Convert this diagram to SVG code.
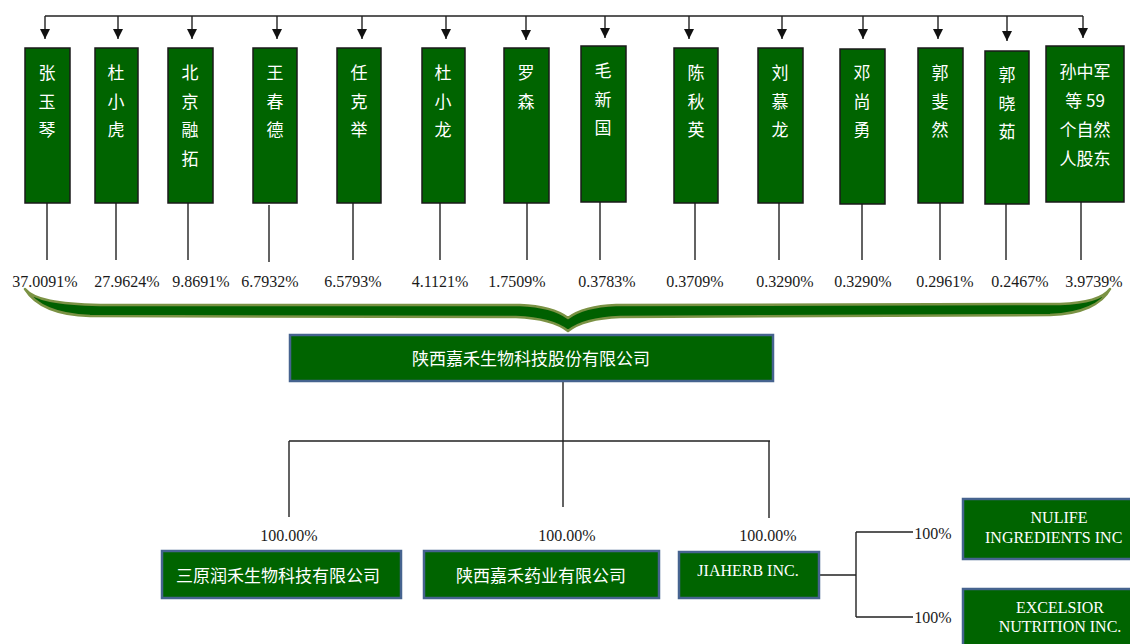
<svg xmlns="http://www.w3.org/2000/svg" width="1130" height="644" viewBox="0 0 1130 644">
<style>
.sh{fill:#006400;stroke:#1a1a1a;stroke-width:1.5}
.co{fill:#006400;stroke:#46638f;stroke-width:2.5}
.vt{font-family:"Noto Sans CJK SC","Noto Sans",sans-serif;font-size:17px;fill:#ffffff;text-anchor:middle;dominant-baseline:central}
.ct{font-family:"Noto Sans CJK SC","Noto Sans",sans-serif;font-size:17px;fill:#ffffff;text-anchor:middle;dominant-baseline:central}
.et{font-family:"Liberation Serif","Times New Roman",serif;font-size:16px;fill:#ffffff;text-anchor:middle;dominant-baseline:central}
.pc{font-family:"Liberation Serif","Times New Roman",serif;font-size:16px;fill:#1a1a1a;text-anchor:middle;dominant-baseline:central}
.ln{stroke:#222;stroke-width:1.4;fill:none}
</style>
<defs>
<marker id="ah" markerWidth="10" markerHeight="10" refX="10" refY="5" orient="auto" markerUnits="userSpaceOnUse" viewBox="0 0 10 10">
<path d="M0,0 L10,5 L0,10 Z" fill="#111"/>
</marker>
</defs>
<rect width="1130" height="644" fill="#ffffff"/>

<g id="connectors">
<path class="ln" d="M45,16 H1083"/>
<path class="ln" d="M45,16 V39" marker-end="url(#ah)"/>
<path class="ln" d="M118,16 V39" marker-end="url(#ah)"/>
<path class="ln" d="M192,16 V39" marker-end="url(#ah)"/>
<path class="ln" d="M277,16 V39" marker-end="url(#ah)"/>
<path class="ln" d="M362,16 V39" marker-end="url(#ah)"/>
<path class="ln" d="M446,16 V39" marker-end="url(#ah)"/>
<path class="ln" d="M526,16 V40" marker-end="url(#ah)"/>
<path class="ln" d="M605,16 V38" marker-end="url(#ah)"/>
<path class="ln" d="M689,16 V39" marker-end="url(#ah)"/>
<path class="ln" d="M782,16 V39" marker-end="url(#ah)"/>
<path class="ln" d="M863,16 V39" marker-end="url(#ah)"/>
<path class="ln" d="M938,16 V39" marker-end="url(#ah)"/>
<path class="ln" d="M1007,16 V41" marker-end="url(#ah)"/>
<path class="ln" d="M1083,16 V38" marker-end="url(#ah)"/>

<path class="ln" d="M47,203 V260 M116,200 V260 M188,203 V260 M269,205 V262 M353,203 V260 M440,203 V260 M527,203 V260 M600,202 V260 M695,203 V260 M779,203 V260 M862,204 V260 M940,203 V260 M1006,204 V260 M1081,202 V260"/>

<path class="ln" d="M563,382 V507 M289,441 H770 M289,441 V517 M769,441 V518"/>
<path class="ln" d="M819,575 H856 M856,532 V617 M856,532 H913 M856,617 H913"/>
</g>

<g id="brace">
<path d="M25,289 C34,300 58,304 100,305 L520,305 C545,306 560,312 568,318 C576,312 591,306 616,305 L1060,304 C1090,303 1104,297 1110,289 C1102,304 1082,314 1050,315 L620,317 C595,318 578,323 568,331 C558,323 541,318 516,317 L90,316 C55,315 35,305 25,289 Z" fill="#006000" stroke="#7b9244" stroke-width="2.5" stroke-linejoin="round"/>
</g>

<g id="pcts">
<text class="pc" x="45" y="281">37.0091%</text>
<text class="pc" x="127" y="281">27.9624%</text>
<text class="pc" x="201" y="281">9.8691%</text>
<text class="pc" x="270" y="281">6.7932%</text>
<text class="pc" x="353" y="281">6.5793%</text>
<text class="pc" x="440" y="281">4.1121%</text>
<text class="pc" x="517" y="281">1.7509%</text>
<text class="pc" x="607" y="281">0.3783%</text>
<text class="pc" x="695" y="281">0.3709%</text>
<text class="pc" x="785" y="281">0.3290%</text>
<text class="pc" x="863" y="281">0.3290%</text>
<text class="pc" x="945" y="281">0.2961%</text>
<text class="pc" x="1020" y="281">0.2467%</text>
<text class="pc" x="1094" y="281">3.9739%</text>
<text class="pc" x="289" y="535">100.00%</text>
<text class="pc" x="567" y="535">100.00%</text>
<text class="pc" x="768" y="535">100.00%</text>
<text class="pc" x="933" y="533">100%</text>
<text class="pc" x="933" y="617">100%</text>
</g>

<g id="n1"><rect class="sh" x="25" y="48" width="45" height="155"/><text class="vt" x="47" y="71">张</text><text class="vt" x="47" y="100">玉</text><text class="vt" x="47" y="128">琴</text></g>
<g id="n2"><rect class="sh" x="95" y="48" width="43" height="155"/><text class="vt" x="116" y="71">杜</text><text class="vt" x="116" y="100">小</text><text class="vt" x="116" y="128">虎</text></g>
<g id="n3"><rect class="sh" x="168" y="48" width="45" height="155"/><text class="vt" x="190" y="71">北</text><text class="vt" x="190" y="100">京</text><text class="vt" x="190" y="128">融</text><text class="vt" x="190" y="157">拓</text></g>
<g id="n4"><rect class="sh" x="253" y="48" width="44" height="155"/><text class="vt" x="275" y="71">王</text><text class="vt" x="275" y="100">春</text><text class="vt" x="275" y="128">德</text></g>
<g id="n5"><rect class="sh" x="337" y="48" width="44" height="155"/><text class="vt" x="359" y="71">任</text><text class="vt" x="359" y="100">克</text><text class="vt" x="359" y="128">举</text></g>
<g id="n6"><rect class="sh" x="422" y="48" width="43" height="155"/><text class="vt" x="443" y="71">杜</text><text class="vt" x="443" y="100">小</text><text class="vt" x="443" y="128">龙</text></g>
<g id="n7"><rect class="sh" x="504" y="48" width="45" height="155"/><text class="vt" x="526" y="71">罗</text><text class="vt" x="526" y="100">森</text></g>
<g id="n8"><rect class="sh" x="581" y="46" width="45" height="156"/><text class="vt" x="603" y="69">毛</text><text class="vt" x="603" y="98">新</text><text class="vt" x="603" y="126">国</text></g>
<g id="n9"><rect class="sh" x="674" y="48" width="44" height="155"/><text class="vt" x="696" y="71">陈</text><text class="vt" x="696" y="100">秋</text><text class="vt" x="696" y="128">英</text></g>
<g id="n10"><rect class="sh" x="758" y="48" width="45" height="155"/><text class="vt" x="780" y="71">刘</text><text class="vt" x="780" y="100">慕</text><text class="vt" x="780" y="128">龙</text></g>
<g id="n11"><rect class="sh" x="840" y="49" width="45" height="155"/><text class="vt" x="862" y="71">邓</text><text class="vt" x="862" y="100">尚</text><text class="vt" x="862" y="128">勇</text></g>
<g id="n12"><rect class="sh" x="918" y="48" width="45" height="155"/><text class="vt" x="940" y="71">郭</text><text class="vt" x="940" y="100">斐</text><text class="vt" x="940" y="128">然</text></g>
<g id="n13"><rect class="sh" x="985" y="51" width="44" height="153"/><text class="vt" x="1007" y="73">郭</text><text class="vt" x="1007" y="102">晓</text><text class="vt" x="1007" y="130">茹</text></g>
<g id="n14"><rect class="sh" x="1046" y="46" width="78" height="156"/><text class="vt" x="1085" y="70">孙中军</text><text class="vt" x="1085" y="99">等 59</text><text class="vt" x="1085" y="128">个自然</text><text class="vt" x="1085" y="157">人股东</text></g>

<g id="main"><rect class="co" x="290" y="335" width="483" height="46"/><text class="ct" x="531" y="357">陕西嘉禾生物科技股份有限公司</text></g>
<g id="sub1"><rect class="co" x="162" y="551" width="239" height="47"/><text class="ct" x="278" y="574">三原润禾生物科技有限公司</text></g>
<g id="sub2"><rect class="co" x="424" y="551" width="235" height="47"/><text class="ct" x="541" y="574">陕西嘉禾药业有限公司</text></g>
<g id="sub3"><rect class="co" x="679" y="552" width="140" height="46"/><text class="et" x="748" y="570">JIAHERB  INC.</text></g>
<g id="sub4"><rect class="co" x="963" y="499" width="180" height="60"/><text class="et" x="1059" y="517">NULIFE</text><text class="et" x="985" y="537" style="text-anchor:start">INGREDIENTS INC</text></g>
<g id="sub5"><rect class="co" x="963" y="589" width="180" height="70"/><text class="et" x="1060" y="607">EXCELSIOR</text><text class="et" x="1060" y="626">NUTRITION INC.</text></g>
</svg>
